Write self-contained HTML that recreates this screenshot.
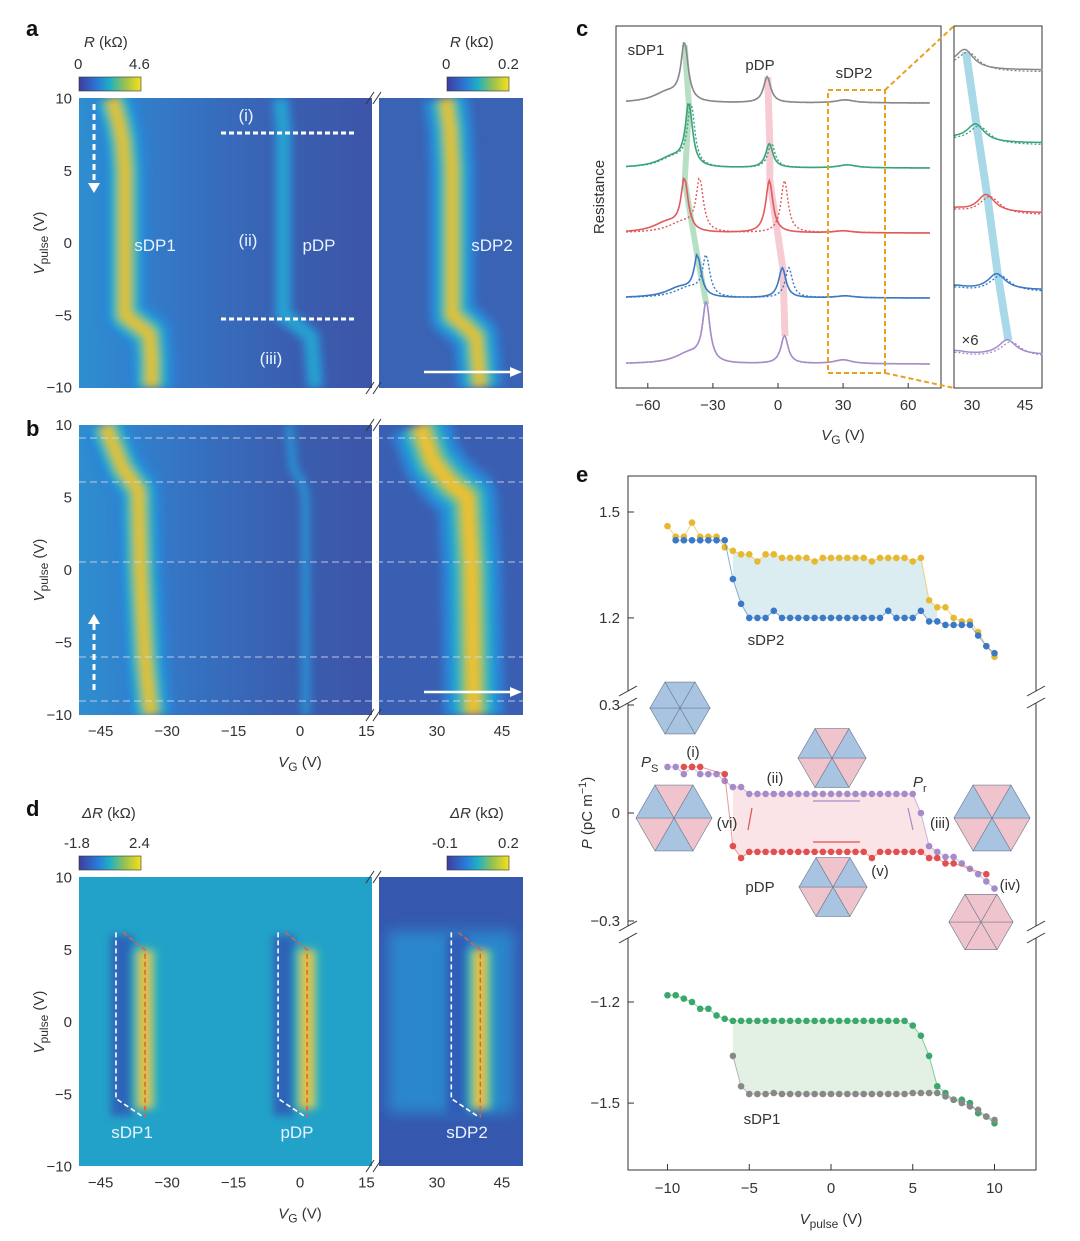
<!DOCTYPE html>
<html><head><meta charset="utf-8">
<style>
body{margin:0;background:#fff;}
svg{display:block;font-family:"Liberation Sans",sans-serif;}
.t{font-size:15px;fill:#333;}
.lab{font-size:22px;font-weight:bold;fill:#111;}
.w{font-size:17px;fill:#e8f4ff;}
</style></head>
<body>
<svg id="fig" width="1080" height="1241" viewBox="0 0 1080 1241" xmlns="http://www.w3.org/2000/svg">
<defs>
<linearGradient id="parula" x1="0" x2="1" y1="0" y2="0">
<stop offset="0" stop-color="#3e3d9e"/><stop offset="0.3" stop-color="#2a7ad6"/><stop offset="0.5" stop-color="#1fb0c4"/><stop offset="0.75" stop-color="#9cc34c"/><stop offset="1" stop-color="#f7e01c"/>
</linearGradient>
<filter id="blur" filterUnits="userSpaceOnUse" x="0" y="0" width="1080" height="1241"><feGaussianBlur stdDeviation="4"/></filter>
<filter id="blur2" filterUnits="userSpaceOnUse" x="0" y="0" width="1080" height="1241"><feGaussianBlur stdDeviation="7"/></filter>
<clipPath id="cA1"><rect x="79" y="98" width="293" height="290"/></clipPath>
<clipPath id="cA2"><rect x="379" y="98" width="144" height="290"/></clipPath>
<clipPath id="cB1"><rect x="79" y="425" width="293" height="290"/></clipPath>
<clipPath id="cB2"><rect x="379" y="425" width="144" height="290"/></clipPath>
<clipPath id="cD1"><rect x="79" y="877" width="293" height="289"/></clipPath>
<clipPath id="cD2"><rect x="379" y="877" width="144" height="289"/></clipPath>
</defs>

<text class="lab" x="26" y="36">a</text>
<text class="lab" x="26" y="436">b</text>
<text class="lab" x="26" y="816">d</text>
<text class="lab" x="576" y="36">c</text>
<text class="lab" x="576" y="482">e</text>

<text class="t" x="84" y="47" font-size="16"><tspan font-style="italic">R</tspan> (kΩ)</text>
<text class="t" x="74" y="69">0</text>
<text class="t" x="129" y="69">4.6</text>
<rect x="79" y="77" width="62" height="14" fill="url(#parula)" stroke="#333" stroke-width="0.6"/>
<text class="t" x="450" y="47" font-size="16"><tspan font-style="italic">R</tspan> (kΩ)</text>
<text class="t" x="442" y="69">0</text>
<text class="t" x="498" y="69">0.2</text>
<rect x="447" y="77" width="62" height="14" fill="url(#parula)" stroke="#333" stroke-width="0.6"/>

<text class="t" x="82" y="818" font-size="16"><tspan font-style="italic">ΔR</tspan> (kΩ)</text>
<text class="t" x="64" y="848">-1.8</text>
<text class="t" x="129" y="848">2.4</text>
<rect x="79" y="856" width="62" height="14" fill="url(#parula)" stroke="#333" stroke-width="0.6"/>
<text class="t" x="450" y="818" font-size="16"><tspan font-style="italic">ΔR</tspan> (kΩ)</text>
<text class="t" x="432" y="848">-0.1</text>
<text class="t" x="498" y="848">0.2</text>
<rect x="447" y="856" width="62" height="14" fill="url(#parula)" stroke="#333" stroke-width="0.6"/>

<g id="heat"></g>
<g id="panelC"></g>
<g id="panelE"></g>
</svg>

<script>
const NS="http://www.w3.org/2000/svg";
function mk(tag,attrs,parent){const e=document.createElementNS(NS,tag);for(const k in attrs)e.setAttribute(k,attrs[k]);(parent||document.getElementById('fig')).appendChild(e);return e;}
function txt(s,attrs,parent){const e=mk('text',attrs,parent);e.textContent=s;return e;}

const aSdp1Vp=[10,8.5,7,5,-5,-5.6,-6.3,-8,-10];
const aSdp1Vg=[-42.5,-41,-40,-39.5,-39.5,-37,-34,-33.5,-33.5];
const aPdpVp=[10,8,5,-5,-5.6,-6.5,-10];
const aPdpVg=[-4.5,-3.8,-3.8,-3.8,-1,2.5,3.5];
const aSdp2Vp=[10,8,5,-5,-5.6,-6.5,-10];
const aSdp2Vg=[32,33,33.5,33.5,36,39,40];
const bSdp1Vp=[10,8.5,7,5.5,0,-6,-9,-10];
const bSdp1Vg=[-44,-42,-40,-36.5,-36,-35,-34,-33.5];
const bPdpVp=[10,7,6,5,-10];
const bPdpVg=[-2.5,-1.5,0.5,1.2,1.3];
const bSdp2Vp=[10,7.5,6,5,0,-10];
const bSdp2Vg=[26,29,33,37,38,38.5];
const dRidgeVg=[-35,1.6,40];
const dRidgeTop=5, dRidgeBot=-6;
const aTicksVp=[10,5,0,-5,-10];
const vgTicksL=[-45,-30,-15,0,15];
const vgTicksR=[30,45];

function xL(v){return 300+4.43*v;}
function xR(v){return 437+4.33*(v-30);}
const yA=v=>243-14.45*v, yB=v=>570-14.5*v, yD=v=>1022-14.45*v;
const H=document.getElementById('heat');

function ridge(vps,vgs,xf,yf,clip,widths,cols){
  const pts=vps.map((vp,i)=>xf(vgs[i]).toFixed(1)+','+yf(vp).toFixed(1)).join(' ');
  const cg=mk('g',{'clip-path':'url(#'+clip+')'},H);
  
  
  const g=mk('g',{filter:'url(#blur)'},cg);
  widths.forEach((w,i)=>{const l=mk('polyline',{points:pts,fill:'none',stroke:cols[i],'stroke-width':w,'stroke-linejoin':'round'},g);
  
  });
}
const strong=[[46,30,18,8],['#2c84d8','#22aec8','#7cc35a','#f0c030']];
const weak=[[18,8],['#2c8ad4','#26a6cc']];

function panelBg(y0,bg1,bg2,name){
  const r1=mk('rect',{x:79,y:y0,width:293,height:290,fill:bg1},H);
  
  
  const r2=mk('rect',{x:379,y:y0,width:144,height:290,fill:bg2},H);
  
  
}
const lg=mk('linearGradient',{id:'bgL',x1:0,x2:1,y1:0,y2:0},document.querySelector('defs'));
[['0','#2e8ed0'],['0.35','#3574c4'],['0.7','#3a5fb0'],['1','#3d55a8']].forEach(s=>mk('stop',{offset:s[0],'stop-color':s[1]},lg));
panelBg(98,'url(#bgL)','#3a63b4','panel-a');
panelBg(425,'url(#bgL)','#3a5fb2','panel-b');
ridge(aSdp1Vp,aSdp1Vg,xL,yA,'cA1',...strong);
ridge(aPdpVp,aPdpVg,xL,yA,'cA1',...weak);
ridge(aSdp2Vp,aSdp2Vg,xR,yA,'cA2',...strong);
ridge(bSdp1Vp,bSdp1Vg,xL,yB,'cB1',...strong);
ridge(bPdpVp,bPdpVg,xL,yB,'cB1',[10,4],['#2c7ed0','#2a98cc']);
ridge(bSdp2Vp,bSdp2Vg,xR,yB,'cB2',[60,40,24,12],['#2c84d8','#22aec8','#7cc35a','#f0c030']);

// panel d
{
 const r=mk('rect',{x:79,y:877,width:293,height:289,fill:'#22a2c8'},H);
 
 
 const r2=mk('rect',{x:379,y:877,width:144,height:289,fill:'#3558ae'},H);
 
 
 const cg2=mk('g',{'clip-path':'url(#cD2)'},H);
 const r4=mk('rect',{x:388,y:yD(6.3),width:126,height:yD(-6.3)-yD(6.3),fill:'#2a86cc',filter:'url(#blur2)'},cg2);
 
 
 dRidgeVg.forEach((vg,i)=>{
  const xf=i<2?xL:xR, clip=i<2?'cD1':'cD2';
  const x=xf(vg);
  const cg=mk('g',{'clip-path':'url(#'+clip+')'},H);
  
  
  const g=mk('g',{filter:'url(#blur)'},cg);
  const dk=mk('rect',{x:x-34,y:yD(dRidgeTop+1),width:22,height:yD(dRidgeBot-0.5)-yD(dRidgeTop+1),fill:'#3054b4',opacity:0.8},g);
  
  
  [[26,'#30b8b0'],[14,'#a8c840'],[7,'#f4c030']].forEach(s=>{
   const l=mk('rect',{x:x-s[0]/2,y:yD(dRidgeTop),width:s[0],height:yD(dRidgeBot)-yD(dRidgeTop),fill:s[1]},g);
   
   
  });
  const wl=mk('polyline',{points:`${x-29},${yD(dRidgeTop+1.2)} ${x-29},${yD(-5.3)} ${x-1},${yD(-6.6)}`,fill:'none',stroke:'#fff','stroke-width':1.6,'stroke-dasharray':'5,3'},H);
  
  
  const rl=mk('polyline',{points:`${x-22},${yD(dRidgeTop+1.2)} ${x},${yD(dRidgeTop)} ${x},${yD(-6.6)}`,fill:'none',stroke:'#e06040','stroke-width':1.5,'stroke-dasharray':'5,3'},H);
  
  
 });
}

[[98,388],[425,715],[877,1166]].forEach(r=>{
 const s=mk('rect',{x:372,y:r[0]-2,width:7,height:r[1]-r[0]+4,fill:'#fff'},H);
 
 
 [r[0],r[1]].forEach(yy=>{[366,373].forEach(xx=>{
   const b=mk('line',{x1:xx,y1:yy+6,x2:xx+8,y2:yy-6,stroke:'#333','stroke-width':1},H);
   
   
 });});
});

[[yA,'a'],[yB,'b'],[yD,'d']].forEach(([yf,p])=>{
 aTicksVp.forEach(v=>{
  const t=txt(String(v).replace('-','−'),{class:'t','text-anchor':'end',x:72,y:yf(v)+5},H);
  
  
 });
 const yl=txt('',{class:'t','font-size':'17',transform:`translate(44,${yf(0)}) rotate(-90)`,'text-anchor':'middle'},H);
 yl.innerHTML='<tspan font-style="italic">V</tspan><tspan font-size="12" dy="4">pulse</tspan><tspan dy="-4"> (V)</tspan>';
 
 
});
[[yB(-10),'b'],[yD(-10),'d']].forEach(([y0,p])=>{
 vgTicksL.forEach(v=>{const t=txt(String(v).replace('-','−'),{class:'t','text-anchor':'middle',x:xL(v),y:y0+21},H);
  
  });
 vgTicksR.forEach(v=>{const t=txt(String(v),{class:'t','text-anchor':'middle',x:xR(v),y:y0+21},H);
  
  });
 const xl=txt('',{class:'t','font-size':'17',x:300,y:y0+52,'text-anchor':'middle'},H);
 xl.innerHTML='<tspan font-style="italic">V</tspan><tspan font-size="12" dy="4">G</tspan><tspan dy="-4"> (V)</tspan>';
 
 
});
[[221,133,356],[221,319,356]].forEach(d=>{const l=mk('line',{x1:d[0],y1:d[1],x2:d[2],y2:d[1],stroke:'#fff','stroke-width':3,'stroke-dasharray':'5,3'},H);
 
 });
[438,482,562,657,701].forEach(y=>{const l=mk('line',{x1:79,y1:y,x2:523,y2:y,stroke:'#dde','stroke-width':1,'stroke-dasharray':'7,4',opacity:0.8},H);
 
 });
[['(i)',246,121],['(ii)',248,246],['(iii)',271,364],['sDP1',155,251],['pDP',319,251],['sDP2',492,251],['sDP1',132,1138],['pDP',297,1138],['sDP2',467,1138]].forEach(a=>{
 const t=txt(a[0],{class:'w','text-anchor':'middle',x:a[1],y:a[2]},H);
 
 });
[[94,104,94,185],[94,690,94,622]].forEach(a=>{
 const l=mk('line',{x1:a[0],y1:a[1],x2:a[2],y2:a[3],stroke:'#fff','stroke-width':3,'stroke-dasharray':'6,4'},H);
 
 
 const dir=a[3]>a[1]?1:-1;
 const h=mk('polygon',{points:`${a[2]-6},${a[3]-dir*2} ${a[2]+6},${a[3]-dir*2} ${a[2]},${a[3]+dir*8}`,fill:'#fff'},H);
 
 
});
[372,692].forEach(y=>{
 const l=mk('line',{x1:424,y1:y,x2:512,y2:y,stroke:'#fff','stroke-width':2.5},H);
 
 
 const h=mk('polygon',{points:`510,${y-5} 522,${y} 510,${y+5}`,fill:'#fff'},H);
 
 
});

// ===== Panel C =====
const C=document.getElementById('panelC');
const cTraceColors=['#888888','#3aa37a','#e05a5a','#3a78c2','#a58cc8'];
const cBaselines=[103,168,233,298,364];
const cSdp1Pos=[-43,-41,-43,-37,-33];
const cSdp1Amp=[58,62,52,40,60];
const cSdp1PosDot=[-43,-40,-36,-33,-33];
const cPdpPos=[-5,-4,-4,2,3];
const cPdpAmp=[26,24,52,30,28];
const cPdpPosDot=[-5,-3,3,5,3];
const cSdp2Pos=[31,32,30,31,30];
const cSdp2Amp=[3,3,2,2,4];
const cTicks=[-60,-30,0,30,60];
const insetTicks=[30,45];
const insetPeakPos=[28,31,34,37,40];
const insetAmp=[18,18,18,16,15];
const insetBase=[70,143,213,290,355];
const xc=v=>778+2.17*v;
const xi=v=>972+3.53*(v-30);
function lor(x,x0,w){return 1/(1+((x-x0)/w)**2);}
function curve(i,dot){
 const pts=[];
 for(let v=-70;v<=70;v+=0.5){
  const p1=dot?cSdp1PosDot[i]:cSdp1Pos[i], p2=dot?cPdpPosDot[i]:cPdpPos[i];
  let y=cSdp1Amp[i]*lor(v,p1,2)+cPdpAmp[i]*lor(v,p2,2)+cSdp2Amp[i]*lor(v,cSdp2Pos[i],5)+10*lor(v,p1-8,8)*(v<p1?1:0.3);
  pts.push(xc(v).toFixed(1)+','+(cBaselines[i]-y).toFixed(1));
 }
 return pts.join(' ');
}
{const f=mk('rect',{x:616,y:26,width:325,height:362,fill:'none',stroke:'#333','stroke-width':1},C);
 
 
 const f2=mk('rect',{x:954,y:26,width:88,height:362,fill:'none',stroke:'#333','stroke-width':1},C);
 
 }
{const pg=mk('polygon',{points:cSdp1Pos.map((p,i)=>`${xc(p)-3},${cBaselines[i]-cSdp1Amp[i]}`).join(' ')+' '+cSdp1Pos.slice().reverse().map((p,j)=>{const i=4-j;return `${xc(p)+3},${cBaselines[i]-cSdp1Amp[i]}`}).join(' '),fill:'#7cc494',opacity:0.55},C);
 
 
 const pp=mk('polygon',{points:cPdpPos.map((p,i)=>`${xc(p)-3},${cBaselines[i]-cPdpAmp[i]}`).join(' ')+' '+cPdpPos.slice().reverse().map((p,j)=>{const i=4-j;return `${xc(p)+4},${cBaselines[i]-cPdpAmp[i]}`}).join(' '),fill:'#f0a0b0',opacity:0.55},C);
 
 
 const pi=mk('polygon',{points:insetPeakPos.map((p,i)=>`${xi(p)-3},${insetBase[i]-insetAmp[i]}`).join(' ')+' '+insetPeakPos.slice().reverse().map((p,j)=>{const i=4-j;return `${xi(p)+5},${insetBase[i]-insetAmp[i]}`}).join(' '),fill:'#6cc0d8',opacity:0.6},C);
 
 }
cTraceColors.forEach((c,i)=>{
 const l=mk('polyline',{points:curve(i,false),fill:'none',stroke:c,'stroke-width':1.6},C);
 
 
 const d=mk('polyline',{points:curve(i,true),fill:'none',stroke:c,'stroke-width':1.4,'stroke-dasharray':'2,2'},C);
 
 
 const ip=[],idp=[];
 for(let v=25;v<=50;v+=0.5){
  const y=insetAmp[i]*lor(v,insetPeakPos[i],3)+4*lor(v,25,4);
  ip.push(xi(v).toFixed(1)+','+(insetBase[i]-y).toFixed(1));
  idp.push(xi(v).toFixed(1)+','+(insetBase[i]+2-insetAmp[i]*lor(v,insetPeakPos[i]+1,3.5)-4*lor(v,25,4)).toFixed(1));
 }
 const il=mk('polyline',{points:ip.join(' '),fill:'none',stroke:c,'stroke-width':1.5},C);
 
 
 const id=mk('polyline',{points:idp.join(' '),fill:'none',stroke:c,'stroke-width':1.3,'stroke-dasharray':'2,2'},C);
 
 
});
{const box=mk('rect',{x:828,y:90,width:57,height:283,fill:'none',stroke:'#e8a020','stroke-width':2,'stroke-dasharray':'5,3'},C);
 
 
 [[885,90,954,26],[885,373,954,388]].forEach(l=>{const e=mk('line',{x1:l[0],y1:l[1],x2:l[2],y2:l[3],stroke:'#e8a020','stroke-width':2,'stroke-dasharray':'5,3'},C);
  
  });}
cTicks.forEach(v=>{
 const tk=mk('line',{x1:xc(v),y1:388,x2:xc(v),y2:383,stroke:'#333'},C);
 
 
 const t=txt(String(v).replace('-','−'),{class:'t','text-anchor':'middle',x:xc(v),y:410},C);
 
 });
insetTicks.forEach(v=>{const t=txt(String(v),{class:'t','text-anchor':'middle',x:xi(v),y:410},C);
 
 });
{const xl=txt('',{class:'t','font-size':'17',x:843,y:440,'text-anchor':'middle'},C);
 xl.innerHTML='<tspan font-style="italic">V</tspan><tspan font-size="12" dy="4">G</tspan><tspan dy="-4"> (V)</tspan>';
 
 
 const yl=txt('Resistance',{class:'t','font-size':'17',transform:'translate(604,197) rotate(-90)','text-anchor':'middle'},C);
 
 
 [['sDP1',646,55],['pDP',760,70],['sDP2',854,78],['×6',970,345]].forEach(a=>{const t=txt(a[0],{class:'t','font-size':'16','text-anchor':'middle',x:a[1],y:a[2]},C);
  
  });}

// ===== Panel E =====
const E=document.getElementById('panelE');
const eV=[];for(let k=0;k<=40;k++)eV.push(-10+k*0.5);
const sdp2Up=[1.46,1.43,1.43,1.47,1.43,1.43,1.43,1.40,1.39,1.38,1.38,1.36,1.38,1.38,1.37,1.37,1.37,1.37,1.36,1.37,1.37,1.37,1.37,1.37,1.37,1.36,1.37,1.37,1.37,1.37,1.36,1.37,1.25,1.23,1.23,1.20,1.19,1.19,1.16,1.12,1.09];
const sdp2Down=[null,1.42,1.42,1.42,1.42,1.42,1.42,1.42,1.31,1.24,1.20,1.20,1.20,1.22,1.20,1.20,1.20,1.20,1.20,1.20,1.20,1.20,1.20,1.20,1.20,1.20,1.20,1.22,1.20,1.20,1.20,1.22,1.19,1.19,1.18,1.18,1.18,1.18,1.15,1.12,1.10];
const pdpUp=[0.128,0.128,0.108,0.128,0.108,0.108,0.108,0.089,0.072,0.072,0.053,0.053,0.053,0.053,0.053,0.053,0.053,0.053,0.053,0.053,0.053,0.053,0.053,0.053,0.053,0.053,0.053,0.053,0.053,0.053,0.053,0.0,-0.092,-0.108,-0.122,-0.122,-0.14,-0.155,-0.17,-0.19,-0.21];
const pdpDown=[null,null,0.128,0.128,0.128,null,null,0.108,-0.092,-0.125,-0.108,-0.108,-0.108,-0.108,-0.108,-0.108,-0.108,-0.108,-0.108,-0.108,-0.108,-0.108,-0.108,-0.108,-0.108,-0.125,-0.108,-0.108,-0.108,-0.108,-0.108,-0.108,-0.125,-0.125,-0.14,-0.14,null,null,null,-0.17,null];
const sdp1Up=[-1.18,-1.18,-1.19,-1.20,-1.22,-1.22,-1.24,-1.25,-1.256,-1.256,-1.256,-1.256,-1.256,-1.256,-1.256,-1.256,-1.256,-1.256,-1.256,-1.256,-1.256,-1.256,-1.256,-1.256,-1.256,-1.256,-1.256,-1.256,-1.256,-1.256,-1.27,-1.30,-1.36,-1.45,-1.47,-1.49,-1.49,-1.50,-1.53,-1.54,-1.56];
const sdp1Down=[null,null,null,null,null,null,null,null,-1.36,-1.45,-1.473,-1.473,-1.473,-1.47,-1.473,-1.473,-1.473,-1.473,-1.473,-1.473,-1.473,-1.473,-1.473,-1.473,-1.473,-1.473,-1.473,-1.473,-1.473,-1.473,-1.47,-1.47,-1.47,-1.47,-1.48,-1.49,-1.50,-1.51,-1.52,-1.54,-1.55];
const eTicksX=[-10,-5,0,5,10];
const eTicksTop=[1.5,1.2], eTicksMid=[0.3,0,-0.3], eTicksBot=[-1.2,-1.5];
const xe=v=>831+16.35*v;
const yTop=p=>512+(1.5-p)*353, yMid=p=>813-p*360, yBot=p=>1002+(-1.2-p)*337;
{const f=mk('rect',{x:628,y:476,width:408,height:694,fill:'none',stroke:'#333','stroke-width':1},E);
 
 
 [697,932].forEach(y=>{const g=mk('rect',{x:620,y:y-6,width:424,height:12,fill:'#fff'},E);
  
  
  [628,1036].forEach(x=>[y-6,y+6].forEach(yy=>{const b=mk('line',{x1:x-9,y1:yy+5,x2:x+9,y2:yy-5,stroke:'#333'},E);
   
   }));});}
function loop(up,down,yf,fillCol,cUp,cDown,name){
 const idx=eV.map((v,i)=>i).filter(i=>up[i]!=null&&down[i]!=null&&i>=8&&i<=33);
 const pts=idx.map(i=>xe(eV[i])+','+yf(up[i])).concat(idx.slice().reverse().map(i=>xe(eV[i])+','+yf(down[i])));
 const sh=mk('polygon',{points:pts.join(' '),fill:fillCol},E);
 
 
 [[up,cUp],[down,cDown]].forEach(([arr,col])=>{
  const p=eV.map((v,i)=>arr[i]==null?null:xe(v)+','+yf(arr[i])).filter(s=>s);
  const l=mk('polyline',{points:p.join(' '),fill:'none',stroke:col,'stroke-width':1,opacity:0.6},E);
  
  
  eV.forEach((v,i)=>{if(arr[i]==null)return;
   const c=mk('circle',{cx:xe(v),cy:yf(arr[i]),r:3.3,fill:col},E);
   
   });
 });
}
loop(sdp2Up,sdp2Down,yTop,'#dcedf2','#e8b830','#3a78c8','sdp2');
loop(pdpUp,pdpDown,yMid,'#fbe4e8','#a58cc8','#e05050','pdp');
loop(sdp1Up,sdp1Down,yBot,'#e2f1e4','#3aa86a','#888888','sdp1');
[[eTicksTop,yTop],[eTicksMid,yMid],[eTicksBot,yBot]].forEach(([ts,yf])=>ts.forEach(p=>{
 const tk=mk('line',{x1:628,y1:yf(p),x2:634,y2:yf(p),stroke:'#333'},E);
 
 
 const t=txt(String(p).replace('-','−'),{class:'t','text-anchor':'end',x:620,y:yf(p)+5},E);
 
 }));
eTicksX.forEach(v=>{
 const tk=mk('line',{x1:xe(v),y1:1170,x2:xe(v),y2:1164,stroke:'#333'},E);
 
 
 const t=txt(String(v).replace('-','−'),{class:'t','text-anchor':'middle',x:xe(v),y:1193},E);
 
 });
{const xl=txt('',{class:'t','font-size':'17',x:831,y:1224,'text-anchor':'middle'},E);
 xl.innerHTML='<tspan font-style="italic">V</tspan><tspan font-size="12" dy="4">pulse</tspan><tspan dy="-4"> (V)</tspan>';
 
 
 const yl=txt('',{class:'t','font-size':'17',transform:'translate(592,813) rotate(-90)','text-anchor':'middle'},E);
 yl.innerHTML='<tspan font-style="italic">P</tspan> (pC m<tspan font-size="11" dy="-6">−1</tspan><tspan dy="6">)</tspan>';
 
 
 [['sDP2',766,645],['pDP',760,892],['sDP1',762,1124],['(i)',693,757],['(ii)',775,783],['(iii)',940,828],['(iv)',1010,890],['(v)',880,876],['(vi)',727,828]].forEach(a=>{
  const t=txt(a[0],{class:'t','font-size':'16','text-anchor':'middle',x:a[1],y:a[2]},E);
  
  });
 const ps=txt('',{class:'t','font-size':'17',x:641,y:767},E);
 ps.innerHTML='<tspan font-style="italic">P</tspan><tspan font-size="11" dy="5">S</tspan>';
 
 
 const pr=txt('',{class:'t','font-size':'17',x:913,y:787},E);
 pr.innerHTML='<tspan font-style="italic">P</tspan><tspan font-size="11" dy="5">r</tspan>';
 
 }
[[813,801,860,801,'#a58cc8'],[860,842,813,842,'#e05050'],[748,830,752,808,'#e05050'],[908,808,913,830,'#a58cc8']].forEach(a=>{
 const l=mk('line',{x1:a[0],y1:a[1],x2:a[2],y2:a[3],stroke:a[4],'stroke-width':1.2},E);
 
 });
function hexIcon(cx,cy,r,pattern,name){
 const g=mk('g',{},E);
 
 
 for(let k=0;k<6;k++){
  const a1=Math.PI/3*k, a2=Math.PI/3*(k+1);
  const col=pattern==='blue'?'#a8c4e0':pattern==='pink'?'#f0c4cc':(k%2?'#a8c4e0':'#f0c4cc');
  const tri=mk('polygon',{points:`${cx},${cy} ${cx+r*Math.cos(a1)},${cy+r*Math.sin(a1)} ${cx+r*Math.cos(a2)},${cy+r*Math.sin(a2)}`,fill:col,stroke:'#6a7890','stroke-width':0.6},g);
  
  
 }
}
hexIcon(680,708,30,'blue','domain-icon-i');
hexIcon(832,758,34,'mix','domain-icon-ii');
hexIcon(674,818,38,'mix','domain-icon-vi');
hexIcon(992,818,38,'mix','domain-icon-iii');
hexIcon(833,887,34,'mix','domain-icon-v');
hexIcon(981,922,32,'pink','domain-icon-iv');
</script>
</body></html>
